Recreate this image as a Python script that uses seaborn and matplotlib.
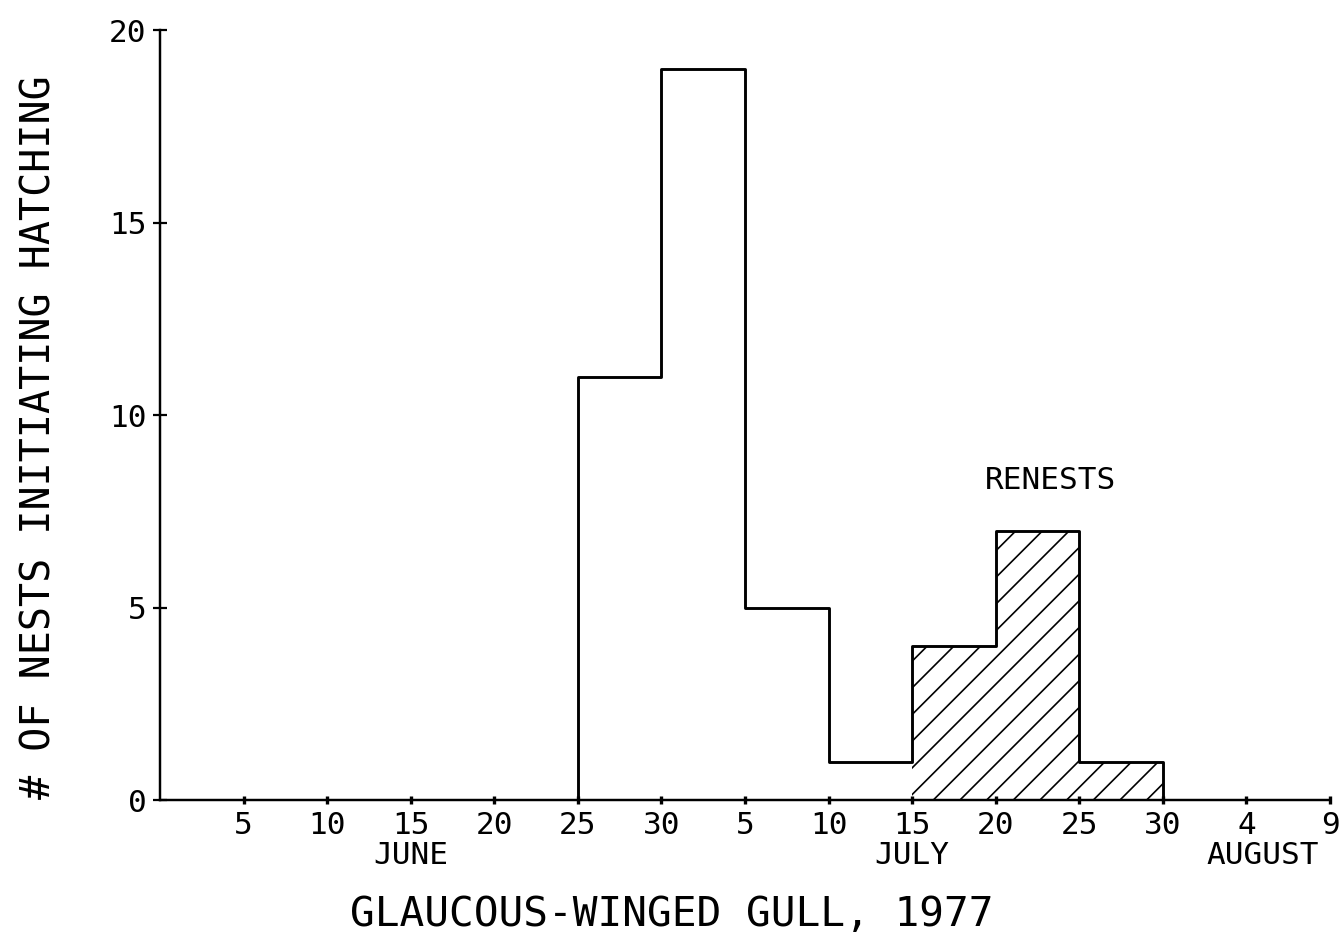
import numpy as np
import pandas as pd
import matplotlib
matplotlib.use("Agg")
import matplotlib.pyplot as plt
import seaborn as sns

# ---- data (days counted from May 31; one bin = 5 days) ----
first_nest_days = [25, 30, 35, 40]        # bin starts: Jun 25, Jun 30, Jul 5, Jul 10
first_nest_counts = [11, 19, 5, 1]
renest_days = [45, 50, 55]                # Jul 15, Jul 20, Jul 25
renest_counts = [4, 7, 1]

tick_days = [5, 10, 15, 20, 25, 30, 35, 40, 45, 50, 55, 60, 65, 70]
tick_labels = ["5", "10", "15", "20", "25", "30", "5", "10", "15", "20", "25", "30", "4", "9"]
month_names = ["JUNE", "JULY", "AUGUST"]
month_days = [15, 45, 66]
y_ticks = [0, 5, 10, 15, 20]

sns.set_style("ticks")
plt.rcParams['font.family'] = ['DejaVu Sans Mono', 'DejaVu Sans']
plt.rcParams['hatch.linewidth'] = 0.75
plt.rcParams['text.color'] = 'black'

DPI = 160
fig = plt.figure(figsize=(1341 / DPI, 940 / DPI), dpi=DPI)
ax = fig.add_axes([0.1193, 0.1489, 0.9918 - 0.1193, 0.968 - 0.1489])

bin_w = 5
all_df = pd.DataFrame({"day": first_nest_days + renest_days,
                       "count": first_nest_counts + renest_counts})
re_df = pd.DataFrame({"day": renest_days, "count": renest_counts})
edges_all = [float(v) for v in range(int(all_df["day"].min()), int(all_df["day"].max()) + bin_w + 1, bin_w)]
edges_re = [float(v) for v in range(int(re_df["day"].min()), int(re_df["day"].max()) + bin_w + 1, bin_w)]

# hatched renests
n0 = len(ax.collections)
sns.histplot(data=re_df, x="day", weights="count", bins=edges_re, element="step",
             fill=True, color="black", linewidth=0, ax=ax)
for coll in ax.collections[n0:]:
    coll.set_facecolor("none")
    coll.set_edgecolor("black")
    coll.set_linewidth(0)
    coll.set_hatch("//")

# overall step outline (closed polygon down to the baseline)
n1 = len(ax.collections)
sns.histplot(data=all_df, x="day", weights="count", bins=edges_all, element="step",
             fill=True, color="black", linewidth=1.3, ax=ax)
for coll in ax.collections[n1:]:
    coll.set_facecolor("none")
    coll.set_edgecolor("black")
    coll.set_linewidth(1.3)

ax.set_xlim(0, 70)
ax.set_ylim(0, 20)
ax.set_xticks(tick_days)
ax.set_xticklabels(tick_labels)
ax.set_yticks(y_ticks)
ax.set_yticklabels([str(v) for v in y_ticks])
ax.tick_params(axis="x", direction="inout", length=4, width=1.5, labelsize=14, pad=3, colors="black")
ax.tick_params(axis="y", direction="inout", length=6, width=1.0, labelsize=14, pad=3, colors="black")
for s in ["top", "right"]:
    ax.spines[s].set_visible(False)
for s in ["left", "bottom"]:
    ax.spines[s].set_linewidth(1.1)
    ax.spines[s].set_color("black")

ax.set_xlabel("")
ax.set_ylabel("")

for name, d in zip(month_names, month_days):
    ax.text(d, -1.43, name, ha="center", va="center", fontsize=14)

ax.text(53.3, 8.3, "RENESTS", ha="center", va="center", fontsize=14)

fig.text(672 / 1341, 1 - 915 / 940, "GLAUCOUS-WINGED GULL, 1977", ha="center",
         va="center", fontsize=18.5)
fig.text(40 / 1341, 1 - 437 / 940, "# OF NESTS INITIATING HATCHING", ha="center",
         va="center", rotation=90, fontsize=18)

fig.savefig("out.png", dpi=DPI)
